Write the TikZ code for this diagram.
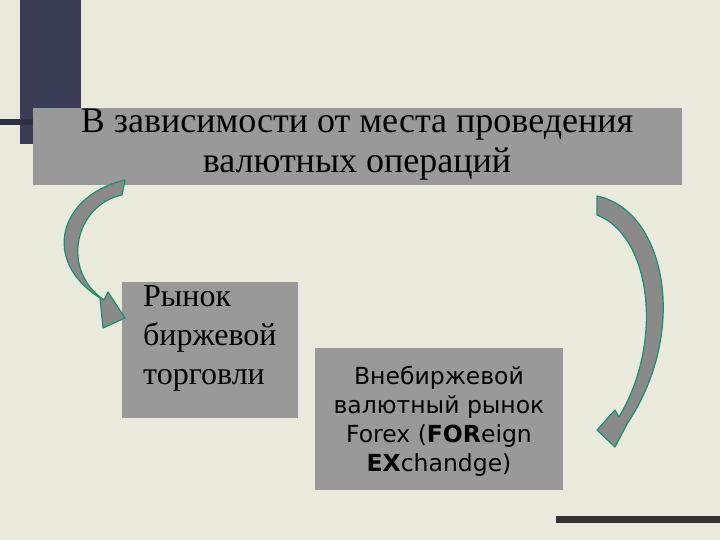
\documentclass[tikz,border=0pt]{standalone}
\usepackage{fontspec}
\setmainfont{Liberation Serif}
\newfontfamily\boxsans{DejaVu Sans}
\definecolor{bg}{HTML}{E9E9DC}
\definecolor{bar}{HTML}{3A3D55}
\definecolor{boxg}{HTML}{999999}
\definecolor{arr}{HTML}{8A8A8A}
\definecolor{edge}{HTML}{1A9070}
\tikzset{graybox/.style={fill=boxg,draw=none},
arrowshape/.style={fill=arr,draw=edge,line width=1.2pt,line join=round}}
\begin{document}
\begin{tikzpicture}[x=1pt,y=-1pt]
\fill[bg] (0,0) rectangle (720,540);
\useasboundingbox (0,0) rectangle (720,540);
\fill[bar] (20,0) rectangle (81,144);
\fill[bar!80!black] (0,119) rectangle (33,125);
\fill[black!80] (556,516) rectangle (720,523);
\fill[graybox] (33,108) rectangle (682,185);
\node[align=center,font=\fontsize{36}{40}\selectfont] (title) at (357,145) {В зависимости от места проведения\\валютных операций};
\fill[graybox] (122,282) rectangle (298,418);
\node[anchor=north west,align=left,font=\fontsize{32}{39}\selectfont,inner sep=0pt] (left) at (143,285) {Рынок\\биржевой\\торговли};
\fill[graybox] (315,348) rectangle (563,490);
\node[align=center,font=\boxsans\fontsize{23.5}{29}\selectfont] (right) at (439,421) {Внебиржевой\\валютный рынок\\Forex (\textbf{FOR}eign\\\textbf{EX}chandge)};
% left arrow
\draw[arrowshape] (125,180) .. controls (60,195) and (40,260) .. (100,298)
  -- (103,328) -- (125,318) -- (108,292) -- (104,300)
  .. controls (60,270) and (75,205) .. (122,195) -- cycle;
% right arrow
\draw[arrowshape] (597,196) .. controls (665,210) and (690,330) .. (627,424)
  -- (615,447) -- (597,430) -- (615,410) -- (619,417)
  .. controls (665,340) and (650,235) .. (597,215) -- cycle;
\end{tikzpicture}
\end{document}
